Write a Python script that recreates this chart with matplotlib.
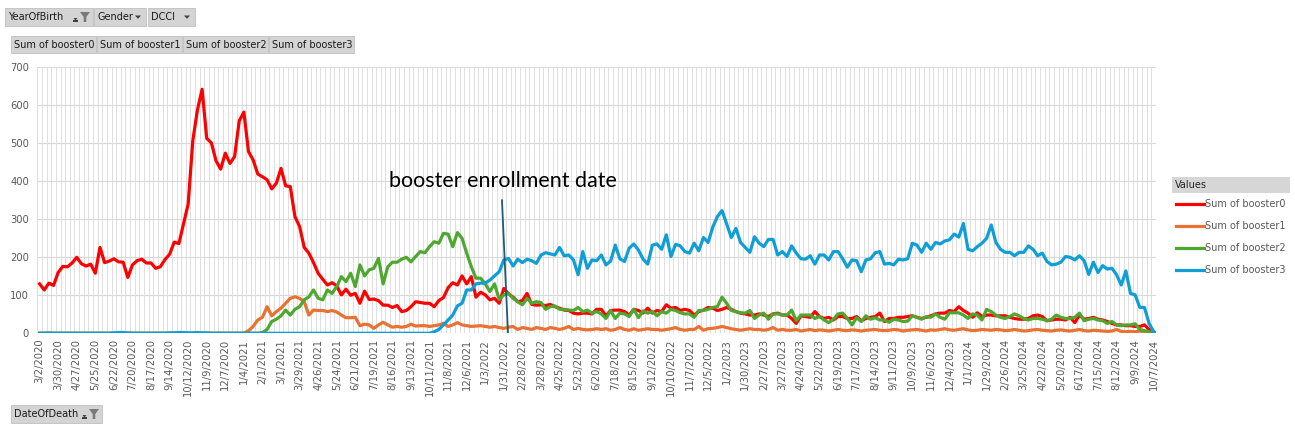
import numpy as np
import pandas as pd
import matplotlib
matplotlib.use('Agg')
import matplotlib.pyplot as plt
from matplotlib.patches import Rectangle, Polygon
from matplotlib.lines import Line2D

# --- weekly categories (DateOfDeath) ---
dates = pd.date_range('2020-03-02', periods=241, freq='7D')
date_labels = [f"{d.month}/{d.day}/{d.year}" for d in dates]

booster0 = [
    130, 114, 132, 126, 160, 176, 175, 185, 200, 183, 177, 182, 158, 226, 186, 190, 196, 188, 187, 147,
    180, 191, 195, 185, 185, 171, 175, 194, 208, 240, 236, 288, 340, 507, 588, 642, 513, 501, 454, 432,
    474, 447, 465, 559, 582, 478, 456, 419, 412, 404, 380, 395, 434, 388, 386, 307, 281, 226, 211, 186,
    158, 142, 127, 133, 125, 101, 116, 100, 105, 79, 111, 89, 90, 86, 74, 74, 68, 73, 57, 60,
    70, 83, 81, 79, 79, 70, 86, 94, 120, 133, 127, 151, 130, 149, 95, 108, 101, 88, 92, 79,
    118, 104, 95, 83, 86, 105, 76, 74, 75, 73, 76, 70, 66, 61, 60, 53, 51, 53, 53, 51,
    63, 63, 46, 60, 61, 61, 57, 48, 63, 60, 53, 66, 53, 60, 57, 75, 66, 68, 60, 63,
    60, 48, 57, 61, 68, 66, 60, 63, 68, 63, 57, 53, 51, 48, 48, 51, 48, 44, 51, 53,
    48, 48, 39, 26, 46, 44, 42, 57, 44, 39, 42, 35, 44, 44, 39, 39, 44, 33, 39, 42,
    44, 53, 31, 39, 39, 42, 42, 44, 46, 42, 39, 42, 46, 51, 53, 53, 60, 57, 70, 60,
    53, 42, 54, 44, 48, 48, 46, 46, 46, 42, 39, 37, 37, 39, 46, 48, 44, 33, 35, 37,
    37, 35, 42, 28, 48, 37, 39, 42, 37, 35, 31, 26, 22, 22, 20, 20, 18, 18, 22, 10,
    4,
]

booster1 = [0] * 45 + [
    7, 18, 35, 42, 70, 46, 57, 66, 79, 92, 96, 92, 83, 48, 61, 60, 60, 57, 60, 56,
    48, 41, 41, 42, 20, 24, 22, 13, 22, 29, 22, 16, 18, 16, 18, 24, 19,
    20, 20, 18, 20, 22, 26, 18, 22, 28, 22, 20, 18, 19, 20, 18, 16, 18, 15, 13, 16,
    18, 10, 15, 13, 10, 15, 13, 10, 15, 13, 10, 13, 18, 10, 13, 10, 9, 10, 12,
    10, 12, 8, 10, 15, 10, 8, 12, 8, 10, 12, 10, 10, 8, 10, 12, 15, 10, 8, 10,
    10, 18, 8, 12, 13, 15, 18, 15, 12, 10, 8, 10, 12, 10, 10, 8, 10, 15, 8, 10, 8,
    8, 10, 6, 8, 10, 7, 9, 8, 6, 8, 10, 8, 7, 9, 8, 6, 8, 9, 10, 8,
    7, 8, 10, 9, 6, 8, 9, 10, 8, 6, 9, 8, 10, 12, 9, 8, 10, 12, 9, 7, 8, 10, 9,
    8, 10, 9, 7, 8, 10, 8, 6, 7, 9, 10, 8, 7, 6, 8, 9, 7, 6, 8, 10,
    7, 6, 8, 7, 6, 5, 6, 10, 5, 4, 5, 4, 6, 3, 2, 0,
]

booster2 = [0] * 48 + [
    2, 10, 31, 37, 46, 61, 48, 63, 70, 88, 96, 114, 92, 88, 114, 105, 123, 149, 136, 158,
    123, 180, 151, 167, 171, 197, 130, 175, 187, 187, 195, 200, 188, 202,
    215, 212, 228, 241, 237, 263, 261, 228, 265, 250, 211, 175, 145, 145, 130, 110, 130, 89, 101, 105,
    92, 83, 75, 92, 79, 83, 81, 63, 70, 72, 63, 63, 61, 60, 68, 57, 61, 53, 57,
    51, 39, 60, 39, 53, 51, 44, 63, 41, 59, 53, 57, 46, 57, 53, 63, 60, 54, 51, 51,
    42, 60, 60, 63, 68, 70, 95, 79, 60, 57, 54, 53, 60, 39, 48, 53, 37, 51, 51, 48, 48,
    61, 33, 48, 48, 48, 39, 44, 35, 28, 37, 51, 53, 39, 22, 41, 31, 46, 37, 41, 35,
    35, 29, 37, 35, 31, 32, 46, 42, 37, 44, 42, 51, 42, 37, 54, 54, 54, 48, 39, 51, 48, 35, 63,
    57, 48, 42, 39, 44, 51, 46, 39, 35, 39, 39, 37, 33, 37, 48, 42, 39, 39, 42, 53,
    33, 37, 39, 35, 33, 26, 31, 22, 20, 22, 22, 25, 10, 7, 4, 2,
]

booster3 = [
    0, 0, 1, 0, 0, 0, 0, 0, 0, 0, 0, 0, 0, 0, 0, 0, 1, 2, 2, 1,
    0, 0, 0, 0, 0, 0, 0, 0, 1, 1, 2, 2, 1, 1, 2, 1, 1, 0, 0, 0,
    0, 0, 0, 0, 0, 0, 0, 0, 0, 0, 0, 0, 0, 0, 0, 0, 0, 0, 0, 0,
    0, 0, 0, 0, 0, 0, 0, 0, 0, 0, 0, 0, 0, 0, 0, 0, 0, 0, 0, 0,
    0, 0, 0, 0, 0,
    4, 10, 22, 35, 48, 72, 79, 114, 114, 130, 132, 132, 140, 151, 162, 193, 197, 177, 195, 186,
    195, 191, 184, 206, 212, 209, 206, 226, 204, 206, 193, 154, 215, 171, 193, 191,
    206, 180, 190, 232, 196, 189, 224, 235, 219, 195, 182, 232, 235, 221, 259, 202, 234, 230, 215, 211,
    237, 217, 252, 239, 279, 307, 323, 288, 252, 276, 239, 226, 213, 254, 237, 228, 247, 247, 206, 215, 202,
    230, 211, 196, 195, 204, 182, 206, 206, 193, 215, 215, 196, 174, 193, 191, 162, 193, 196, 212, 215,
    182, 184, 180, 195, 193, 196, 237, 232, 213, 237, 221, 239, 235, 243, 246, 261, 253, 289, 221, 217,
    228, 237, 250,
    285, 239, 221, 213, 213, 204, 213, 213, 230, 221, 204, 211, 189, 180, 182, 187, 202, 200, 193, 204,
    191, 155, 187, 160, 178, 169, 171, 154, 127, 164, 105, 101, 68, 68, 26, 4,
]

series_names = ['Sum of booster0', 'Sum of booster1', 'Sum of booster2', 'Sum of booster3']
series_colors = ['#FF0000', '#E97132', '#4EA72E', '#0F9ED5']

# annotation: marker line for booster enrollment (category index, value)
enroll_line_x = [99.6, 100.9]
enroll_line_y = [350, 0]
enroll_text = 'booster enrollment date'

grid_c = '#d9d9d9'
txt_c = '#595959'
W, H = 1295, 425

fig = plt.figure(figsize=(12.95, 4.25), dpi=100)
ax = fig.add_axes([0.0288, 0.2158, 0.8639, 0.6259])

x = np.arange(len(dates))
data = [booster0, booster1, booster2, booster3]
for vals, name, col in zip(data, series_names, series_colors):
    ax.plot(x, vals, color=col, lw=2.3, label=name, solid_joinstyle='round', zorder=3)

ax.set_xlim(-0.5, len(dates) - 0.5)
ax.set_ylim(0, 700)
ax.set_yticks(range(0, 701, 100))
ax.set_xticks(x[::4])
ax.set_xticklabels(date_labels[::4], rotation=90, fontsize=7.2, color=txt_c)
ax.tick_params(axis='y', labelsize=7.2, colors=txt_c, length=0, pad=6)
ax.tick_params(axis='x', length=0, pad=4)

# gridlines: horizontal per 100, vertical at every category boundary
for yv in range(0, 701, 100):
    ax.axhline(yv, color=grid_c, lw=0.8, zorder=1)
for xb in np.arange(-0.5, len(dates), 1.0):
    ax.axvline(xb, color=grid_c, lw=0.6, zorder=1)
for s in ax.spines.values():
    s.set_visible(False)

ax.plot(enroll_line_x, enroll_line_y, color='#1f5c7a', lw=1.3, zorder=4)
ax.text(75.3, 402, enroll_text, fontsize=15.5, family='Lato', color='black',
        va='center', zorder=5)

# --- legend ---
fig.patches.append(Rectangle((1172 / W, 1 - 193 / H), 118 / W, 16 / H,
                             transform=fig.transFigure, facecolor='#d6d6d6', edgecolor='none'))
fig.text(1175 / W, 1 - 185 / H, 'Values', fontsize=7, va='center', color='#262626')
for k, (name, col) in enumerate(zip(series_names, series_colors)):
    yy = 1 - (204 + 22 * k) / H
    fig.add_artist(Line2D([1176 / W, 1204 / W], [yy, yy], transform=fig.transFigure,
                          color=col, lw=2.3))
    fig.text(1205 / W, yy, name, fontsize=7, va='center', color=txt_c)


# --- pivot field buttons ---
def dropdown(xc, yc):
    pts = [((xc - 3) / W, 1 - (yc - 1.5) / H), ((xc + 3) / W, 1 - (yc - 1.5) / H),
           (xc / W, 1 - (yc + 1.8) / H)]
    fig.patches.append(Polygon(pts, closed=True, transform=fig.transFigure,
                               facecolor='#404040', edgecolor='none'))


def funnel(xc, yc):
    pts = [(xc - 5, yc - 5), (xc + 5, yc - 5), (xc + 1.3, yc), (xc + 1.3, yc + 5),
           (xc - 1.3, yc + 5), (xc - 1.3, yc)]
    pts = [(px / W, 1 - py / H) for px, py in pts]
    fig.patches.append(Polygon(pts, closed=True, transform=fig.transFigure,
                               facecolor='#7a7a7a', edgecolor='none'))
    fig.patches.append(Rectangle(((xc - 12) / W, 1 - (yc + 4.5) / H), 5 / W, 1.4 / H,
                                 transform=fig.transFigure, facecolor='#404040',
                                 edgecolor='none'))
    fig.patches.append(Polygon([((xc - 11.5) / W, 1 - (yc + 1) / H), ((xc - 7.5) / W, 1 - (yc + 1) / H),
                                ((xc - 9.5) / W, 1 - (yc + 3.5) / H)], closed=True,
                               transform=fig.transFigure, facecolor='#404040', edgecolor='none'))


def button(x0, y0, w, h, label, kind=None):
    fig.patches.append(Rectangle((x0 / W, 1 - (y0 + h) / H), w / W, h / H,
                                 transform=fig.transFigure, facecolor='#d4d4d4',
                                 edgecolor='#c0c0c0', lw=0.6))
    fig.text((x0 + 3) / W, 1 - (y0 + h / 2) / H, label, fontsize=7, va='center',
             color='#1a1a1a', family='DejaVu Sans')
    if kind == 'drop':
        dropdown(x0 + w - 8, y0 + h / 2)
    elif kind == 'filter':
        funnel(x0 + w - 8, y0 + h / 2)


button(5, 8, 88, 18, 'YearOfBirth', 'filter')
button(94, 8, 52, 18, 'Gender', 'drop')
button(148, 8, 47, 18, 'DCCI', 'drop')
button(11, 36, 85, 17, 'Sum of booster0')
button(97, 36, 85, 17, 'Sum of booster1')
button(183, 36, 85, 17, 'Sum of booster2')
button(269, 36, 85, 17, 'Sum of booster3')
button(11, 405, 91, 18, 'DateOfDeath', 'filter')

fig.savefig('out.png', dpi=100)
